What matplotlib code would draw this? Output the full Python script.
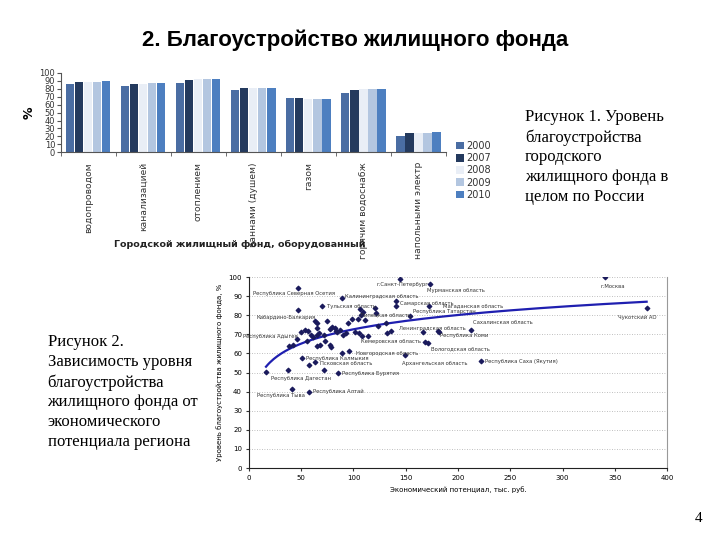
import numpy as np
import matplotlib
matplotlib.use("Agg")
import matplotlib.pyplot as plt

# --- данные: диаграмма 1 (городской жилищный фонд, %) ---
categories = ["водопроводом", "канализацией", "отоплением", "ваннами (душем)",
              "газом", "горячим водоснабж", "напольными электр"]
years = ["2000", "2007", "2008", "2009", "2010"]
v2000 = [86.2, 84.1, 87.0, 79.0, 69.0, 75.3, 20.9]
v2007 = [88.3, 86.2, 90.8, 81.2, 67.8, 79.0, 23.8]
v2008 = [89.0, 86.6, 92.0, 80.8, 67.0, 80.0, 24.5]
v2009 = [89.1, 87.0, 92.5, 80.8, 67.0, 80.0, 23.8]
v2010 = [90.0, 87.9, 92.5, 81.6, 67.0, 80.0, 25.1]
bar_ticks = list(range(0, 101, 10))

# --- данные: диаграмма 2 (уровень благоустройства vs экономический потенциал) ---
region_names = ["г.Москва", "г.Санкт-Петербург", "Мурманская область",
                "Республика Северная Осетия", "Калининградская область",
                "Самарская область", "Тульская область", "Магаданская область",
                "Чукотский АО", "Кабардино-Балкария", "Республика Татарстан",
                "Липецкая область", "Ленинградская область", "Сахалинская область",
                "Республика Коми", "Республика Адыгея", "Кемеровская область",
                "Вологодская область", "Новгородская область", "Архангельская область",
                "Республика Калмыкия", "Республика Саха (Якутия)", "Псковская область",
                "Республика Дагестан", "Республика Бурятия", "Республика Тыва",
                "Республика Алтай"]
region_pot = [340.7, 144.5, 173.0, 46.6, 89.3, 140.4, 69.5, 172.5, 380.5, 46.6,
              154.0, 98.3, 135.9, 212.0, 181.0, 49.8, 168.4, 171.0, 95.7, 149.0,
              50.4, 222.0, 63.0, 37.6, 85.5, 40.8, 57.7]
region_level = [99.8, 99.0, 96.3, 94.4, 88.8, 87.4, 84.8, 85.0, 83.9, 82.9,
                79.6, 77.8, 71.9, 72.3, 71.9, 71.0, 66.1, 65.6, 61.4, 59.0,
                57.4, 56.0, 55.3, 51.3, 49.6, 41.4, 40.0]

other_pot = [140.4, 120.6, 106.0, 122.0, 109.0, 107.0, 130.8, 131.7, 166.8, 182.0,
             89.3, 57.7, 16.3, 72.0,
             63.2, 65.4, 75.0, 53.6, 56.8, 64.7, 59.3, 61.6, 65.4, 67.3,
             77.5, 79.1, 82.3, 83.3, 84.5, 87.1, 72.7, 77.5, 78.1, 64.7,
             67.9, 72.1, 90.3, 92.8, 95.0, 101.4, 105.6, 107.8, 113.9, 123.8,
             104.0, 111.0, 38.6, 42.4, 55.2, 45.6]
other_level = [84.8, 83.9, 83.0, 81.3, 81.5, 80.1, 76.1, 70.5, 71.2, 71.0,
               60.4, 53.9, 50.4, 51.3,
               77.0, 75.7, 77.0, 72.3, 71.9, 73.5, 69.6, 68.7, 69.6, 70.5,
               72.6, 73.6, 73.5, 71.9, 71.4, 72.3, 66.5, 64.4, 63.2, 63.9,
               64.4, 69.6, 69.6, 70.5, 75.7, 71.4, 70.5, 69.1, 69.1, 74.5,
               77.8, 77.5, 63.9, 64.4, 66.5, 67.4]

# логарифмическая линия тренда y = a + b*ln(x)
trend_a = 22.9
trend_b = 10.8

# смещения подписей (пиксели) и выравнивание
label_style = {
    "г.Москва": (-5, -9, "left"),
    "г.Санкт-Петербург": (3, -6, "center"),
    "Мурманская область": (26, -6, "center"),
    "Республика Северная Осетия": (-4, -6, "center"),
    "Калининградская область": (3, 2, "left"),
    "Самарская область": (4, -2, "left"),
    "Тульская область": (5, 0, "left"),
    "Магаданская область": (14, 0, "left"),
    "Чукотский АО": (-9, -10, "center"),
    "Кабардино-Балкария": (-12, -8, "center"),
    "Республика Татарстан": (3, 4, "left"),
    "Липецкая область": (8, 5, "left"),
    "Ленинградская область": (8, 2, "left"),
    "Сахалинская область": (2, 7, "left"),
    "Республика Коми": (2, -5, "left"),
    "Республика Адыгея": (-3, -4, "right"),
    "Кемеровская область": (-4, 0, "right"),
    "Вологодская область": (3, -6, "left"),
    "Новгородская область": (7, -3, "left"),
    "Архангельская область": (-3, -8, "left"),
    "Республика Калмыкия": (4, 0, "left"),
    "Республика Саха (Якутия)": (4, 0, "left"),
    "Псковская область": (5, -1, "left"),
    "Республика Дагестан": (13, -8, "center"),
    "Республика Бурятия": (4, 0, "left"),
    "Республика Тыва": (-11, -7, "center"),
    "Республика Алтай": (4, 0, "left"),
}

plt.rcParams['font.family'] = ['DejaVu Sans']

fig = plt.figure(figsize=(7.2, 5.4), dpi=100)

# заголовок слайда
fig.text(0.493, 0.926, "2. Благоустройство жилищного фонда",
         ha='center', va='center', fontsize=16, fontweight='bold',
         family='Liberation Sans')

# --- диаграмма 1 ---
ax1 = fig.add_axes([0.0843, 0.718, 0.5351, 0.147])
series = [v2000, v2007, v2008, v2009, v2010]
colors = ['#4a6da3', '#243a5e', '#e9eef6', '#b3c6e0', '#4d7fc0']
x = np.arange(len(categories)) + 0.5
step = 0.164
for k, (vals, col, yr) in enumerate(zip(series, colors, years)):
    ax1.bar(x + (k - 2) * step, vals, width=0.15, color=col, label=yr,
            edgecolor='none')
ax1.set_xlim(0, len(categories))
ax1.set_ylim(0, 100)
ax1.set_yticks(bar_ticks)
ax1.set_yticklabels([str(t) for t in bar_ticks], fontsize=6, color='#333333')
ax1.set_xticks(x)
ax1.set_xticklabels(categories, rotation=90, fontsize=6.6, color='#333333',
                    va='top')
ax1.set_xticks(np.arange(len(categories) + 1), minor=True)
ax1.tick_params(axis='x', which='major', length=0, pad=7)
ax1.tick_params(axis='x', which='minor', length=3, color='#555555')
ax1.tick_params(axis='y', length=3, pad=1, color='#555555')
for s in ['top', 'right']:
    ax1.spines[s].set_visible(False)
for s in ['left', 'bottom']:
    ax1.spines[s].set_color('#555555')
    ax1.spines[s].set_linewidth(0.8)
ax1.set_ylabel("%", fontsize=9, fontweight='bold', rotation=90, labelpad=3)
ax1.legend(loc='upper left', bbox_to_anchor=(1.016, 0.19), frameon=False,
           fontsize=7, handlelength=0.8, handleheight=0.8, handletextpad=0.3,
           labelspacing=0.22, labelcolor='#333333', borderaxespad=0)
fig.text(0.333, 0.548, "Городской жилищный фонд, оборудованный",
         ha='center', va='center', fontsize=6.8, fontweight='bold',
         color='#222222')

# подписи справа и слева
fig.text(0.729, 0.798,
         "Рисунок 1. Уровень\nблагоустройства\nгородского\nжилищного фонда в\nцелом по России",
         ha='left', va='top', fontsize=12, family='Liberation Serif',
         linespacing=1.32)
fig.text(0.066, 0.381,
         "Рисунок 2.\nЗависимость уровня\nблагоустройства\nжилищного фонда от\nэкономического\nпотенциала региона",
         ha='left', va='top', fontsize=12, family='Liberation Serif',
         linespacing=1.32)
fig.text(0.975, 0.04, "4", ha='right', va='center', fontsize=11,
         family='Liberation Serif')

# --- диаграмма 2 ---
ax2 = fig.add_axes([0.3458, 0.1333, 0.5806, 0.3537])
ax2.set_xlim(0, 400)
ax2.set_ylim(0, 100)
ax2.set_yticks(bar_ticks)
ax2.set_xticks(range(0, 401, 50))
ax2.tick_params(labelsize=5, color='#333333', length=2, pad=3)
ax2.grid(axis='y', linestyle=(0, (1, 2)), color='#aaaaaa', linewidth=0.6)
ax2.spines['top'].set_visible(False)
ax2.spines['right'].set_color('#999999')
ax2.spines['left'].set_color('#222222')
ax2.spines['bottom'].set_color('#222222')
ax2.spines['left'].set_linewidth(0.8)
ax2.spines['bottom'].set_linewidth(0.8)

ax2.scatter(other_pot, other_level, marker='D', s=5, color='#1a1a5c', zorder=3)
ax2.scatter(region_pot, region_level, marker='D', s=5, color='#1a1a5c', zorder=3)

all_pot = np.array(region_pot + other_pot)
xt = np.linspace(all_pot.min(), all_pot.max(), 200)
ax2.plot(xt, trend_a + trend_b * np.log(xt), color='#1f1fb0', linewidth=1.6,
         zorder=2)

for name, px_, py_ in zip(region_names, region_pot, region_level):
    dx, dy, ha = label_style[name]
    ax2.annotate(name, (px_, py_), xytext=(dx, dy), textcoords='offset pixels',
                 ha=ha, va='center', fontsize=3.8, color='#333333')

ax2.set_ylabel("Уровень благоустройства жилищного фонда, %", fontsize=5,
               labelpad=4)
ax2.set_xlabel("Экономический потенциал, тыс. руб.", fontsize=5, labelpad=4)

fig.savefig("out.png", dpi=100)
